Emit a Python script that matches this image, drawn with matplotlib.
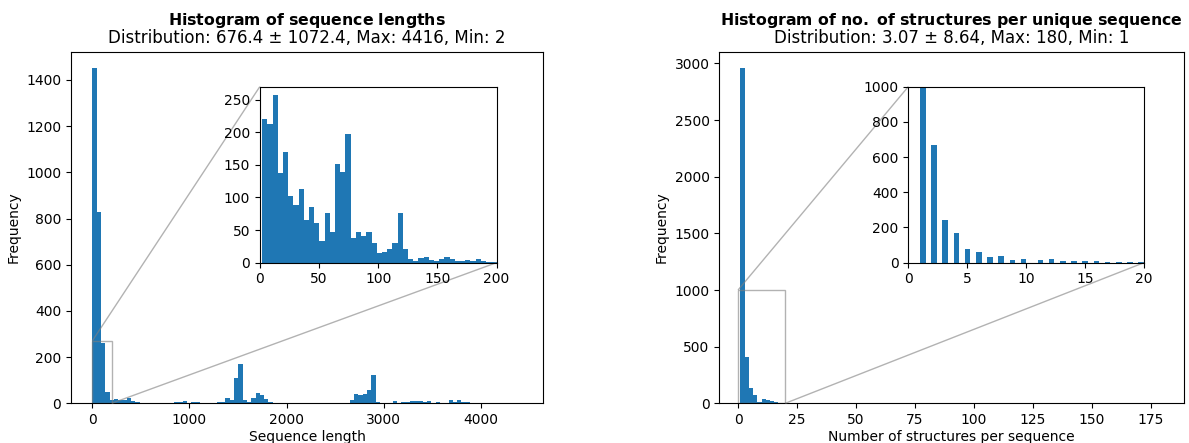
import numpy as np
import matplotlib
matplotlib.use("Agg")
import matplotlib.pyplot as plt
from mpl_toolkits.axes_grid1.inset_locator import mark_inset

# sequence lengths: 100 bins between min and max
len_min, len_max = 2, 4416
len_counts = [
    1450, 828, 263, 50, 14, 17, 14, 16, 25, 10,
    6, 0, 0, 0, 0, 0, 0, 0, 0, 4,
    4, 9, 0, 4, 4, 0, 0, 0, 0, 5,
    5, 22, 14, 108, 170, 13, 4, 23, 43, 36,
    20, 4, 0, 0, 0, 0, 0, 0, 0, 0,
    0, 0, 0, 0, 0, 0, 0, 0, 0, 0,
    13, 39, 36, 42, 56, 121, 4, 0, 0, 0,
    9, 0, 4, 6, 12, 12, 12, 4, 9, 0,
    4, 0, 0, 13, 4, 13, 4, 4, 0, 0,
    0, 0, 0, 0, 0, 0, 0, 0, 0, 1,
]

# zoomed: lengths up to 200, 45 bins
zoom_len_max = 200
zoom_len_counts = [
    221, 212, 257, 137, 169, 102, 89, 113, 65, 85,
    61, 33, 76, 47, 151, 139, 198, 38, 47, 41,
    47, 30, 15, 17, 21, 30, 76, 21, 6, 2,
    7, 9, 4, 3, 6, 9, 6, 3, 3, 4,
    3, 5, 2, 1, 1,
]

# structures per unique sequence (integer values)
struct_values = [1, 2, 3, 4, 5, 6, 7, 8, 9, 10,
                 11, 12, 13, 14, 15, 16, 17, 18, 19, 20,
                 22, 25, 28, 31, 36, 42, 48, 55, 64, 72, 90, 120, 180]
struct_counts = [2289, 667, 242, 169, 78, 61, 32, 38, 15, 21,
                 15, 21, 9, 9, 9, 9, 4, 3, 2, 2,
                 2, 2, 1, 1, 1, 1, 1, 1, 1, 1, 1, 1, 1]

head_left = r"$\bf{Histogram\ of\ sequence\ lengths}$"
sub_left = "Distribution: 676.4 ± 1072.4, Max: 4416, Min: 2"
head_right = r"$\bf{Histogram\ of\ no.\ of\ structures\ per\ unique\ sequence}$"
sub_right = "Distribution: 3.07 ± 8.64, Max: 180, Min: 1"

W, H = 1189, 443
AX_H = 351.6
fig = plt.figure(figsize=(W / 100, H / 100), dpi=100)


def titles(ax, head, sub):
    ax.set_title(sub)
    ax.text(0.5, 1 + 26.9 / AX_H, head, fontsize=11.3, ha="center",
            va="baseline", transform=ax.transAxes)


# ---- left: sequence lengths
ax1 = fig.add_axes([71 / W, 1 - 403.3 / H, 472 / W, AX_H / H])
edges = np.linspace(len_min, len_max, len(len_counts) + 1)
ax1.hist(edges[:-1], bins=edges, weights=len_counts)
ax1.set_xlabel("Sequence length", labelpad=2)
ax1.set_ylabel("Frequency")
titles(ax1, head_left, sub_left)

ins1 = ax1.inset_axes([0.4, 0.4, 0.5015, 0.5006])
zedges = np.linspace(len_min, zoom_len_max, len(zoom_len_counts) + 1)
ins1.hist(zedges[:-1], bins=zedges, weights=zoom_len_counts)
ins1.set_xlim(0, 200)
ins1.set_ylim(0, 270)
mark_inset(ax1, ins1, loc1=2, loc2=4, fc="none", ec="0.5", alpha=0.6)

# ---- right: structures per sequence
ax2 = fig.add_axes([719.3 / W, 1 - 403.3 / H, 464.7 / W, AX_H / H])
sv = np.array(struct_values)
sc = np.array(struct_counts)
ax2.hist(sv, bins=100, weights=sc)
ax2.set_xlabel("Number of structures per sequence", labelpad=2)
ax2.set_ylabel("Frequency")
titles(ax2, head_right, sub_right)

ins2 = ax2.inset_axes([189 / 464.7, 0.4, 235.7 / 464.7, 0.5006])
ins2.hist(sv[sv <= 20], bins=40, weights=sc[sv <= 20])
ins2.set_xlim(0, 20)
ins2.set_ylim(0, 1000)
mark_inset(ax2, ins2, loc1=2, loc2=4, fc="none", ec="0.5", alpha=0.6)

fig.savefig("out.png", dpi=100)
